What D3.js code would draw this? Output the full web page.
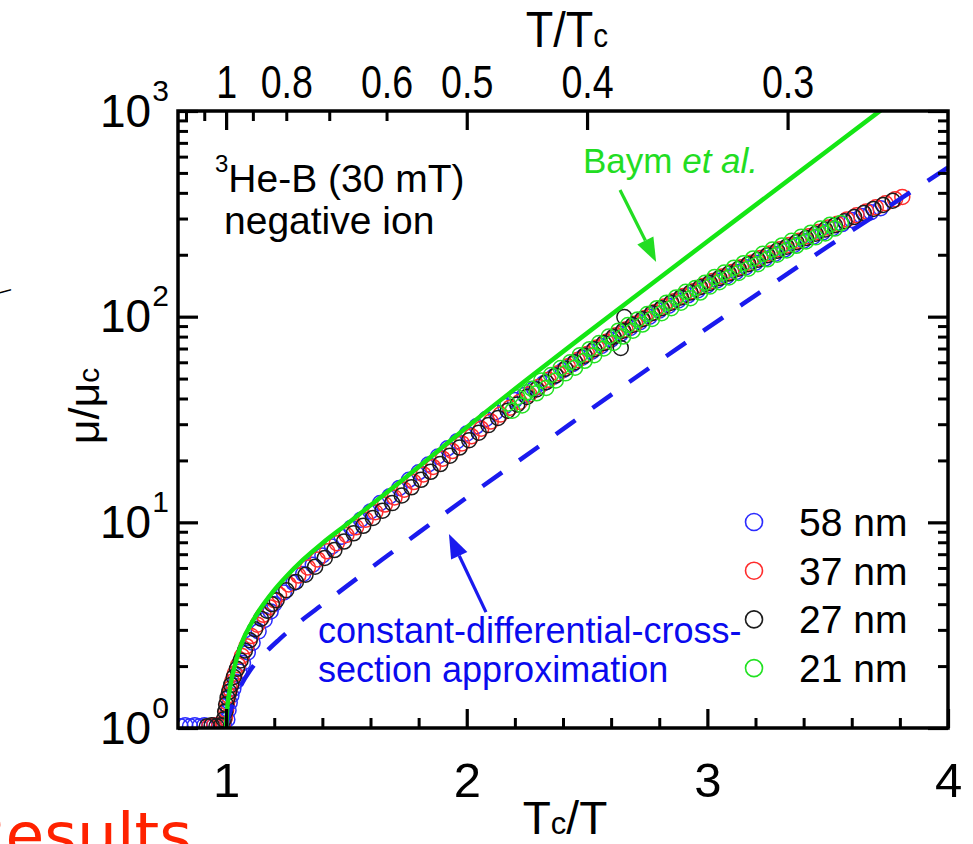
<!DOCTYPE html>
<html>
<head>
<meta charset="utf-8">
<script src="https://cdn.jsdelivr.net/npm/d3@7"></script>
<style>
  body { margin: 0; background: #fff; }
  svg { display: block; font-family: "Liberation Sans", Arial, sans-serif; }
</style>
</head>
<body>
<svg id="chart"></svg>
<script>
// ---- data: [Tc/T, mu/mu_c] ----
const blue58 = [
  [0.81,1.02],[0.83,1.03],[0.85,1.02],[0.87,1.03],[0.89,1.02],[0.91,1.03],[0.93,1.02],[0.95,1.03],[0.97,1.02],[0.99,1.05],
  [1.005,1.10],[1.01,1.22],[1.015,1.33],[1.022,1.44],[1.03,1.55],[1.04,1.68],[1.055,1.88],[1.07,2.07],[1.09,2.33],[1.11,2.60],
  [1.135,2.95],[1.16,3.35],[1.185,3.69],[1.20,4.01],[1.24,4.56],[1.28,5.08],[1.32,5.61],[1.36,6.22],[1.40,6.90],[1.44,7.64],
  [1.48,8.50],[1.52,9.42],[1.56,10.3],[1.60,11.3],[1.64,12.4],[1.68,13.4],[1.72,14.7],[1.76,16.1],[1.80,17.5],[1.84,19.1],
  [1.88,20.9],[1.92,22.9],[1.96,24.8],[2.00,27.0],[2.04,29.3],[2.08,31.8],[2.12,34.3],[2.16,36.8],[2.20,39.3],[2.24,41.6],
  [2.28,44.6],[2.32,47.5],[2.36,51.0],[2.40,54.9],[2.44,58.8],[2.48,63.2],[2.52,67.5],[2.56,72.1],[2.60,77.3],[2.64,82.5],
  [2.68,88.2],[2.72,94.0],[2.76,100],[2.80,107],[2.84,113],[2.88,120],[2.92,127],[2.96,134],[3.00,142],[3.04,150],
  [3.08,157],[3.12,165],[3.16,174],[3.20,183],[3.24,192],[3.28,202],[3.32,212],[3.36,223],[3.40,234],[3.44,245],
  [3.48,257],[3.52,269],[3.56,282],[3.60,295],[3.64,309],[3.68,322],[3.72,337]
];
const red37 = [
  [0.93,1.02],[0.95,1.03],[0.97,1.02],[0.985,1.04],
  [0.995,1.12],[1.0,1.22],[1.004,1.33],[1.009,1.44],[1.016,1.55],[1.025,1.68],[1.036,1.84],[1.05,2.02],[1.066,2.24],[1.085,2.50],
  [1.105,2.80],[1.13,3.18],[1.155,3.55],[1.18,3.87],[1.20,4.18],[1.22,4.45],[1.26,4.99],[1.30,5.51],[1.34,6.03],[1.38,6.60],
  [1.42,7.23],[1.46,7.92],[1.50,8.68],[1.54,9.46],[1.58,10.3],[1.62,11.2],[1.66,12.2],[1.70,13.2],[1.74,14.4],[1.78,15.7],
  [1.82,17.1],[1.86,18.6],[1.90,20.4],[1.94,22.2],[1.98,24.2],[2.02,26.2],[2.06,28.5],[2.10,30.9],[2.14,33.4],[2.18,36.1],
  [2.22,38.5],[2.26,41.9],[2.30,45.6],[2.34,49.3],[2.38,53.1],[2.42,57.4],[2.46,61.5],[2.50,65.8],[2.54,70.9],[2.58,75.6],
  [2.62,81.2],[2.66,86.5],[2.70,92.3],[2.74,98.5],[2.78,105],[2.82,112],[2.86,119],[2.90,126],[2.94,133],[2.98,141],
  [3.02,149],[3.06,157],[3.10,165],[3.14,174],[3.18,183],[3.22,193],[3.26,203],[3.30,213],[3.34,223],[3.38,234],
  [3.42,246],[3.46,258],[3.50,271],[3.54,283],[3.58,297],[3.62,311],[3.66,325],[3.70,340],[3.74,356],[3.78,372],[3.81,382]
];
const black27 = [
  [0.92,1.02],[0.94,1.03],[0.96,1.02],[0.98,1.03],
  [0.99,1.10],[0.996,1.20],[1.0,1.30],[1.006,1.40],[1.013,1.50],[1.021,1.62],[1.032,1.77],[1.045,1.94],[1.06,2.13],[1.078,2.38],
  [1.098,2.67],[1.12,3.02],[1.145,3.40],[1.17,3.72],[1.19,4.00],[1.21,4.18],[1.25,4.68],[1.29,5.13],[1.33,5.56],[1.37,6.08],
  [1.41,6.71],[1.45,7.33],[1.49,8.06],[1.53,8.84],[1.57,9.62],[1.61,10.5],[1.65,11.4],[1.69,12.4],[1.73,13.5],[1.77,14.8],
  [1.81,16.1],[1.85,17.6],[1.89,19.2],[1.93,21.1],[1.97,23.1],[2.01,25.1],[2.05,27.3],[2.09,29.7],[2.13,32.2],[2.17,34.9],
  [2.21,37.4],[2.25,40.7],[2.29,44.3],[2.33,48.0],[2.37,51.8],[2.41,55.8],[2.45,60.1],[2.49,64.6],[2.53,69.4],[2.57,74.4],
  [2.61,79.8],[2.64,70.5],[2.65,85.4],[2.655,99.5],[2.69,91.1],[2.73,97.2],[2.77,104],[2.81,110],[2.85,117],[2.89,124],
  [2.93,131],[2.97,139],[3.01,146],[3.05,154],[3.09,162],[3.13,171],[3.17,180],[3.21,189],[3.25,199],[3.29,209],
  [3.33,219],[3.37,230],[3.41,241],[3.45,253],[3.49,265],[3.53,278],[3.57,291],[3.61,305],[3.65,319],[3.69,334],
  [3.73,349],[3.77,366]
];
const green21 = [
  [2.17,37.8],[2.19,34.9],[2.21,40.6],[2.23,37.0],[2.25,42.9],[2.27,44.6],[2.29,42.4],[2.31,49.0],[2.33,45.0],[2.35,52.0],
  [2.37,49.0],[2.39,56.3],[2.41,53.0],[2.43,60.0],[2.45,56.5],[2.47,65.0],[2.49,61.0],[2.51,69.5],[2.53,65.0],[2.55,74.5],
  [2.57,70.0],[2.59,80.0],[2.61,74.5],[2.63,85.5],[2.65,80.0],[2.67,91.0],[2.69,85.5],[2.71,97.0],[2.73,91.5],[2.75,103],
  [2.77,97.5],[2.79,110],[2.81,104],[2.83,117],[2.85,110],[2.87,124],[2.89,117],[2.91,132],[2.93,123],[2.95,138],
  [2.97,131],[2.99,146],[3.01,140],[3.03,156],[3.05,147],[3.07,164],[3.09,155],[3.11,173],[3.13,163],[3.15,182],
  [3.17,171],[3.19,192],[3.21,180],[3.23,202],[3.25,190],[3.27,212],[3.29,200],[3.31,222],[3.33,210],[3.35,234],
  [3.37,221],[3.39,245],[3.41,232],[3.43,256],[3.45,243],[3.47,268],[3.49,254],[3.51,280],[3.53,268],[3.555,285]
];
// Baym et al. theory and constant-differential-cross-section approximation
const baymCurve = [
  [1.000,1.00],[1.004,1.22],[1.012,1.46],[1.025,1.78],[1.045,2.20],[1.07,2.68],[1.10,3.15],[1.14,3.77],[1.19,4.53],[1.25,5.45],
  [1.32,6.58],[1.40,7.92],[1.50,9.75],[1.60,12.1],[1.72,15.6],[1.85,20.8],[2.00,29.0],[2.25,49.5],[2.50,83.2],[2.75,139],
  [3.00,232],[3.25,386],[3.50,643],[3.72,1007]
];
const cdcsCurve = [
  [1.000,1.00],[1.01,1.14],[1.02,1.23],[1.035,1.38],[1.06,1.60],[1.10,1.91],[1.15,2.24],[1.22,2.69],[1.30,3.24],[1.40,3.98],
  [1.50,4.88],[1.65,6.61],[1.80,8.91],[2.00,13.2],[2.30,23.4],[2.60,41.7],[2.90,73.3],[3.20,127],[3.50,219],[3.80,373],[4.00,531]
];

const seriesNames = ['58 nm', '37 nm', '27 nm', '21 nm'];
const seriesColors = ['#2b2bff', '#ff2b2b', '#1c1c1c', '#22e222'];

// ticks
const xMajorTicks = [1, 2, 3, 4];
const xMinorTicks = [1.2, 1.4, 1.6, 1.8, 2.2, 2.4, 2.6, 2.8, 3.2, 3.4, 3.6, 3.8];
const topMajorT = [1, 0.5, 0.4, 0.3];
const topMinorT = [1.2, 1.1, 0.9, 0.8, 0.7, 0.6];
const topLabelT = [1, 0.8, 0.6, 0.5, 0.4, 0.3];
const yDecades = [1, 10, 100, 1000];

class MobilityPlot {

  constructor(_config, _data) {
    this.config = {
      parentElement: _config.parentElement,
      containerWidth: _config.containerWidth || 973,
      containerHeight: _config.containerHeight || 844,
      margin: { top: 111, bottom: 116, right: 25, left: 178 }
    }
    this.data = _data;
    this.initVis();
  }

  initVis() {
    let vis = this;

    vis.width = vis.config.containerWidth - vis.config.margin.left - vis.config.margin.right;
    vis.height = vis.config.containerHeight - vis.config.margin.top - vis.config.margin.bottom;

    vis.xScale = d3.scaleLinear().domain([0.8, 4]).range([0, vis.width]);
    vis.yScale = d3.scaleLog().domain([1, 1000]).range([vis.height, 0]);

    vis.svg = d3.select(vis.config.parentElement)
        .attr('width', vis.config.containerWidth)
        .attr('height', vis.config.containerHeight)
        .style('background-color', '#ffffff');

    vis.chart = vis.svg.append('g')
        .attr('transform', `translate(${vis.config.margin.left},${vis.config.margin.top})`);

    vis.chart.append('clipPath').attr('id', 'plot-clip')
      .append('rect').attr('width', vis.width).attr('height', vis.height);

    vis.plot = vis.chart.append('g').attr('clip-path', 'url(#plot-clip)');

    vis.renderVis();
    vis.renderAxes();
    vis.renderLabels();
  }

  renderVis() {
    let vis = this;

    // data circles, drawn 58 -> 37 -> 27 -> 21 nm
    vis.data.forEach((pts, i) => {
      vis.plot.selectAll(`.pt${i}`)
        .data(pts)
        .join('circle')
          .attr('class', `pt${i}`)
          .attr('cx', d => vis.xScale(d[0]))
          .attr('cy', d => vis.yScale(d[1]))
          .attr('r', 7.5)
          .attr('fill', 'none')
          .attr('stroke', seriesColors[i])
          .attr('stroke-width', 1.5);
    });

    let line = d3.line()
        .x(d => vis.xScale(d[0]))
        .y(d => vis.yScale(d[1]))
        .curve(d3.curveMonotoneX);

    vis.plot.append('path')
        .attr('d', line(cdcsCurve))
        .attr('fill', 'none')
        .attr('stroke', '#1a1aee')
        .attr('stroke-width', 4.5)
        .attr('stroke-dasharray', '24,21');

    vis.plot.append('path')
        .attr('d', line(baymCurve))
        .attr('fill', 'none')
        .attr('stroke', '#14e614')
        .attr('stroke-width', 4.5);
  }

  renderAxes() {
    let vis = this;
    const noLabel = () => '';
    let styleTicks = (g, w) => {
      g.select('.domain').remove();
      g.selectAll('.tick line').attr('stroke', '#000').attr('stroke-width', w);
    };

    // bottom
    vis.chart.append('g')
        .attr('transform', `translate(0,${vis.height})`)
        .call(d3.axisBottom(vis.xScale).tickValues(xMinorTicks).tickSize(-10).tickFormat(noLabel))
        .call(g => styleTicks(g, 3));
    vis.chart.append('g')
        .attr('class', 'x-axis')
        .attr('transform', `translate(0,${vis.height})`)
        .call(d3.axisBottom(vis.xScale).tickValues(xMajorTicks).tickSize(-19).tickPadding(34).tickFormat(d3.format('d')))
        .call(g => styleTicks(g, 3.2))
        .call(g => g.selectAll('text').attr('font-size', 49).attr('fill', '#000')
            .attr('font-family', '"Liberation Sans", Arial, sans-serif'));

    // top: T/Tc
    vis.chart.append('g')
        .call(d3.axisTop(vis.xScale).tickValues(topMinorT.map(t => 1 / t)).tickSize(-10).tickFormat(noLabel))
        .call(g => styleTicks(g, 3));
    vis.chart.append('g')
        .call(d3.axisTop(vis.xScale).tickValues(topMajorT.map(t => 1 / t)).tickSize(-19).tickFormat(noLabel))
        .call(g => styleTicks(g, 3.2));
    vis.chart.append('g')
        .call(d3.axisTop(vis.xScale).tickValues(topLabelT.map(t => 1 / t)).tickSize(0).tickPadding(13)
            .tickFormat(d => String(+(1 / d).toFixed(2))))
        .call(g => g.select('.domain').remove())
        .call(g => g.selectAll('text').attr('font-size', 47).attr('fill', '#000')
            .attr('font-family', '"Liberation Sans", Arial, sans-serif')
            .attr('transform', 'scale(0.8,1)'));

    // left / right log axes
    let yMinor = vis.yScale.ticks().filter(v => !yDecades.includes(v));
    [['left', d3.axisLeft, 0], ['right', d3.axisRight, vis.width]].forEach(([name, axisFn, xPos]) => {
      vis.chart.append('g')
          .attr('transform', `translate(${xPos},0)`)
          .call(axisFn(vis.yScale).tickValues(yMinor).tickSize(-10).tickFormat(noLabel))
          .call(g => styleTicks(g, 3));
      vis.chart.append('g')
          .attr('class', `y-axis-${name}`)
          .attr('transform', `translate(${xPos},0)`)
          .call(axisFn(vis.yScale).tickValues(yDecades).tickSize(-20).tickFormat(noLabel))
          .call(g => styleTicks(g, 3.2));
    });

    // decade labels 10^n
    vis.chart.select('.y-axis-left').selectAll('.tick').each(function(d) {
      let t = d3.select(this).append('text')
          .attr('text-anchor', 'start')
          .attr('fill', '#000');
      t.append('tspan').attr('x', -78).attr('y', 15).attr('font-size', 46).text('10');
      t.append('tspan').attr('dx', 1).attr('y', -11).attr('font-size', 30)
          .text(Math.round(Math.log10(d)));
    });

    // frame
    vis.chart.append('rect')
        .attr('width', vis.width)
        .attr('height', vis.height)
        .attr('fill', 'none')
        .attr('stroke', '#000')
        .attr('stroke-width', 3.5);
  }

  renderLabels() {
    let vis = this;
    let x = vis.xScale, y = vis.yScale;

    // axis titles
    let top = vis.svg.append('text').attr('x', 567).attr('y', 47).attr('text-anchor', 'middle')
        .attr('font-size', 50).attr('transform', 'translate(567,0) scale(0.9,1) translate(-567,0)');
    top.append('tspan').text('T/T');
    top.append('tspan').attr('font-size', 33).text('c');

    let bottom = vis.svg.append('text').attr('x', 565).attr('y', 834).attr('text-anchor', 'middle')
        .attr('font-size', 46);
    bottom.append('tspan').text('T');
    bottom.append('tspan').attr('font-size', 31).text('c');
    bottom.append('tspan').text('/T');

    let yt = vis.svg.append('text').attr('transform', 'translate(99,406) rotate(-90)')
        .attr('text-anchor', 'middle').attr('font-size', 43);
    yt.append('tspan').text('μ/μ');
    yt.append('tspan').attr('font-size', 30).text('c');

    // sample label
    let s = vis.chart.append('text').attr('x', 37).attr('y', 81).attr('font-size', 39);
    s.append('tspan').attr('font-size', 24).attr('dy', -20).text('3');
    s.append('tspan').attr('dy', 20).text('He-B (30 mT)');
    vis.chart.append('text').attr('x', 46).attr('y', 123).attr('font-size', 39).text('negative ion');

    // legend
    seriesNames.forEach((name, i) => {
      let ly = 411 + i * 48.7;
      vis.chart.append('circle').attr('cx', 576).attr('cy', ly).attr('r', 8.5)
          .attr('fill', 'none').attr('stroke', seriesColors[i]).attr('stroke-width', 1.6);
      vis.chart.append('text').attr('x', 621).attr('y', ly + 14).attr('font-size', 39).text(name);
    });

    // annotations
    let arrow = (from, to, color) => {
      let x0 = x(from[0]), y0 = y(from[1]), x1 = x(to[0]), y1 = y(to[1]);
      let a = Math.atan2(y1 - y0, x1 - x0), L = 24, W = 9;
      let bx = x1 - L * Math.cos(a), by = y1 - L * Math.sin(a);
      vis.chart.append('line').attr('x1', x0).attr('y1', y0).attr('x2', bx).attr('y2', by)
          .attr('stroke', color).attr('stroke-width', 3.2);
      vis.chart.append('polygon')
          .attr('points', [[x1, y1],
            [bx + W * Math.sin(a), by - W * Math.cos(a)],
            [bx - W * Math.sin(a), by + W * Math.cos(a)]].map(p => p.join(',')).join(' '))
          .attr('fill', color);
    };
    arrow([2.637, 413], [2.787, 184.5], '#22dd22');
    arrow([2.080, 3.66], [1.926, 8.77], '#1a1aee');

    let b = vis.chart.append('text').attr('x', 405).attr('y', 62).attr('font-size', 35).attr('fill', '#22dd22');
    b.append('tspan').text('Baym ');
    b.append('tspan').attr('font-style', 'italic').text('et al.');

    vis.chart.append('text').attr('x', 140).attr('y', 532).attr('font-size', 36).attr('fill', '#0a0aee')
        .text('constant-differential-cross-');
    vis.chart.append('text').attr('x', 140).attr('y', 571).attr('font-size', 36).attr('fill', '#0a0aee')
        .text('section approximation');

    // fragments cut off by the crop
    vis.svg.append('text').attr('x', 192).attr('y', 857).attr('text-anchor', 'end')
        .attr('font-family', '"DejaVu Sans", sans-serif').attr('font-size', 63).attr('fill', '#ff2200')
        .text('Results');
    vis.svg.append('text').attr('transform', 'translate(11,294) rotate(-90)')
        .attr('font-size', 18).text('\\');
  }
}

new MobilityPlot({ parentElement: '#chart' }, [blue58, red37, black27, green21]);
</script>
</body>
</html>
